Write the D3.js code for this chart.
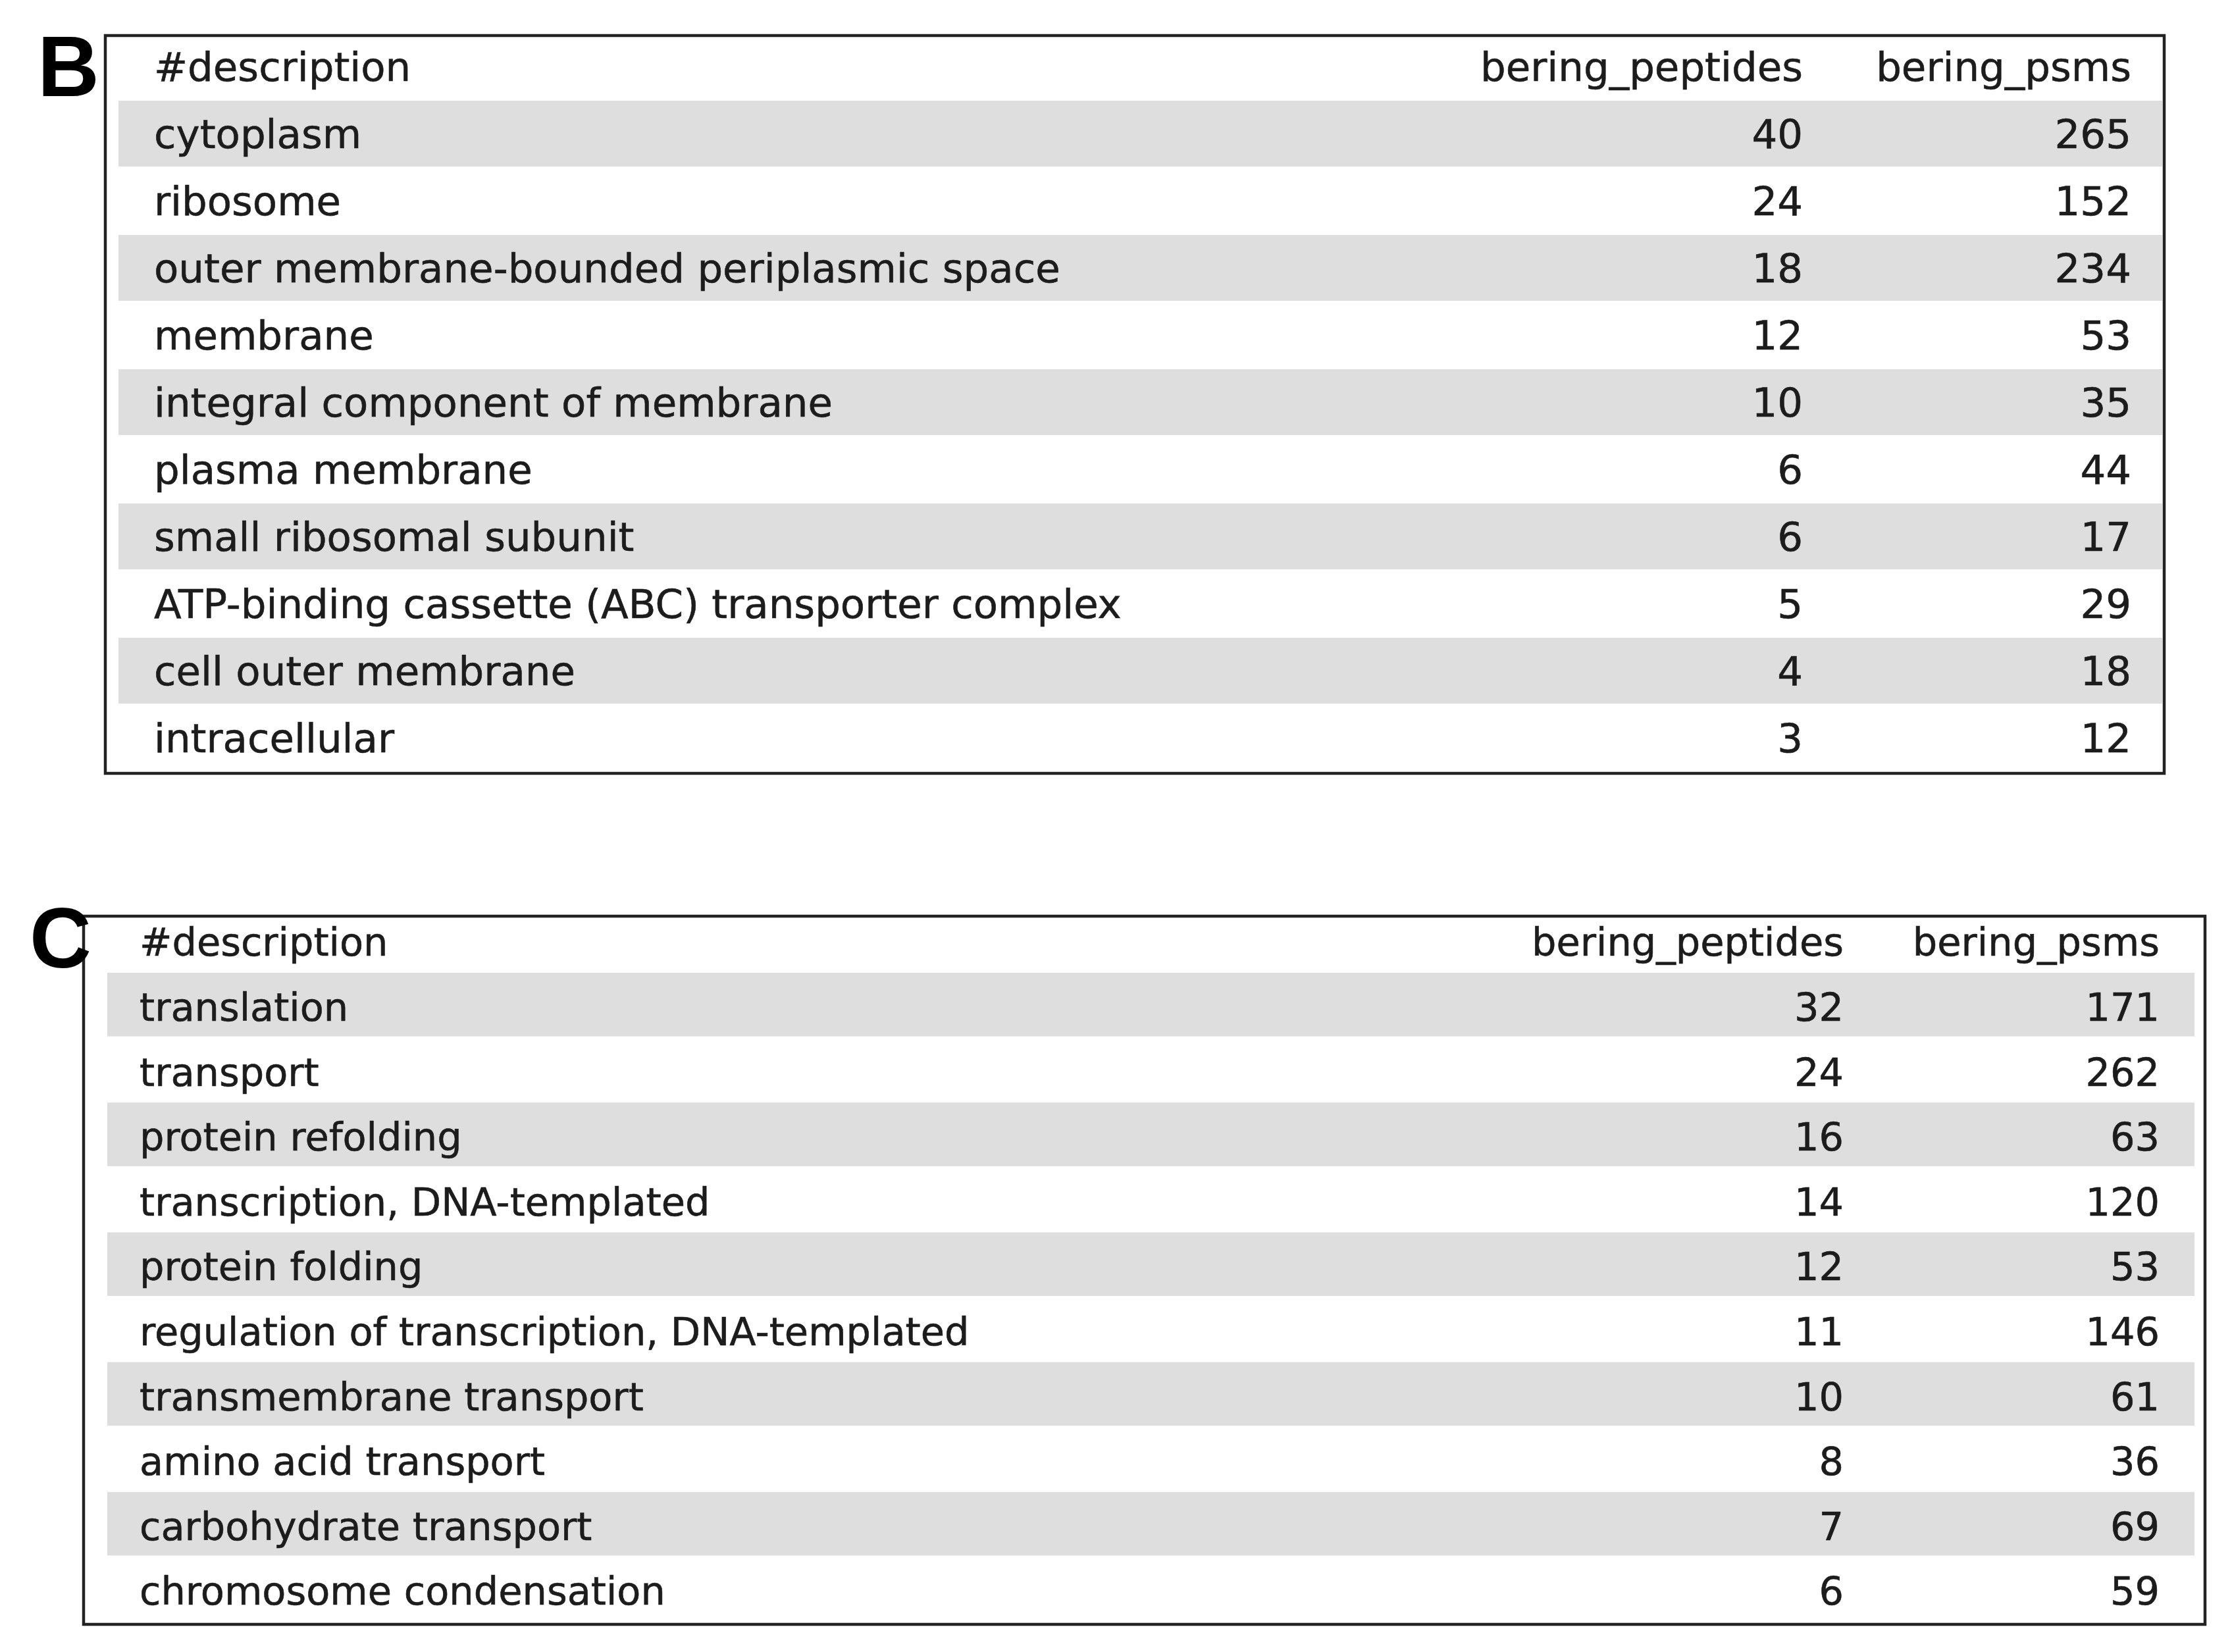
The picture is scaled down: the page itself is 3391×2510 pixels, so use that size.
<!DOCTYPE html>
<html>
<head>
<meta charset="utf-8">
<script src="https://cdn.jsdelivr.net/npm/d3@7"></script>
<style>
  body { margin: 0; background: #fff; }
  svg { display: block; }
</style>
</head>
<body>
<script>
var width = 3391,
    height = 2510;

// table data
var columnHeaders = ["#description", "bering_peptides", "bering_psms"];

var bDescriptions = ["cytoplasm", "ribosome", "outer membrane-bounded periplasmic space",
    "membrane", "integral component of membrane", "plasma membrane",
    "small ribosomal subunit", "ATP-binding cassette (ABC) transporter complex",
    "cell outer membrane", "intracellular"];
var bPeptides = [40, 24, 18, 12, 10, 6, 6, 5, 4, 3];
var bPsms = [265, 152, 234, 53, 35, 44, 17, 29, 18, 12];

var cDescriptions = ["translation", "transport", "protein refolding",
    "transcription, DNA-templated", "protein folding",
    "regulation of transcription, DNA-templated", "transmembrane transport",
    "amino acid transport", "carbohydrate transport", "chromosome condensation"];
var cPeptides = [32, 24, 16, 14, 12, 11, 10, 8, 7, 6];
var cPsms = [171, 262, 63, 120, 53, 146, 61, 36, 69, 59];
// end table data

var svg = d3.select("body").append("svg")
    .attr("width", width)
    .attr("height", height);

svg.append("rect")
    .attr("width", width)
    .attr("height", height)
    .attr("fill", "#fff");

// layout of each panel
var bLayout = {
    label: "B", labelX: 57, labelY: 146,
    box: [160, 54, 3288, 1175],
    stripeX: [180, 3285],
    rowTop: 153, rowStep: 102, stripeGap: 2, baseline: 72,
    headerY: 123,
    colX: [234, 2739, 3238],
    fontSize: 61
};

var cLayout = {
    label: "C", labelX: 45, labelY: 1470,
    box: [127, 1392, 3350, 2468],
    stripeX: [163, 3334],
    rowTop: 1478, rowStep: 98.6, stripeGap: 2, baseline: 73,
    headerY: 1452,
    colX: [212, 2801, 3281],
    fontSize: 59
};

function drawTable(layout, descriptions, peptides, psms) {
    var g = svg.append("g");

    var rows = descriptions.map(function(d, i) {
        return { description: d, peptides: peptides[i], psms: psms[i], idx: i };
    });

    var yRange = d3.scaleBand()
        .domain(d3.range(rows.length))
        .range([layout.rowTop, layout.rowTop + layout.rowStep * rows.length]);

    var xRange = d3.scaleOrdinal()
        .domain(columnHeaders)
        .range(layout.colX);

    // stripes on alternate rows
    g.append("g").selectAll("rect")
        .data(rows.filter(function(r) { return r.idx % 2 === 0; }))
        .join("rect")
        .attr("x", layout.stripeX[0])
        .attr("y", function(r) { return yRange(r.idx); })
        .attr("width", layout.stripeX[1] - layout.stripeX[0])
        .attr("height", yRange.bandwidth() - layout.stripeGap)
        .attr("fill", "#dedede");

    var textStyle = function(sel) {
        sel.attr("font-family", "'DejaVu Sans', Verdana, sans-serif")
            .attr("font-size", layout.fontSize)
            .attr("fill", "#1c1c1c")
            .attr("stroke", "#1c1c1c")
            .attr("stroke-width", 0.6);
    };

    // header
    g.append("g").selectAll("text")
        .data(columnHeaders)
        .join("text")
        .call(textStyle)
        .attr("x", function(h) { return xRange(h); })
        .attr("y", layout.headerY)
        .attr("text-anchor", function(h, i) { return i === 0 ? "start" : "end"; })
        .text(function(h) { return h; });

    // body cells
    var rowG = g.append("g").selectAll("g")
        .data(rows)
        .join("g")
        .attr("transform", function(r) { return "translate(0," + (yRange(r.idx) + layout.baseline) + ")"; });

    rowG.append("text")
        .call(textStyle)
        .attr("x", xRange(columnHeaders[0]))
        .text(function(r) { return r.description; });

    rowG.append("text")
        .call(textStyle)
        .attr("x", xRange(columnHeaders[1]))
        .attr("text-anchor", "end")
        .text(function(r) { return r.peptides; });

    rowG.append("text")
        .call(textStyle)
        .attr("x", xRange(columnHeaders[2]))
        .attr("text-anchor", "end")
        .text(function(r) { return r.psms; });

    // frame
    g.append("rect")
        .attr("x", layout.box[0])
        .attr("y", layout.box[1])
        .attr("width", layout.box[2] - layout.box[0])
        .attr("height", layout.box[3] - layout.box[1])
        .attr("fill", "none")
        .attr("stroke", "#222")
        .attr("stroke-width", 4.5);

    // panel letter
    g.append("text")
        .attr("x", layout.labelX)
        .attr("y", layout.labelY)
        .attr("font-family", "'Liberation Sans', Arial, sans-serif")
        .attr("font-weight", "bold")
        .attr("font-size", 130)
        .attr("fill", "#000")
        .text(layout.label);
}

drawTable(bLayout, bDescriptions, bPeptides, bPsms);
drawTable(cLayout, cDescriptions, cPeptides, cPsms);
</script>
</body>
</html>
